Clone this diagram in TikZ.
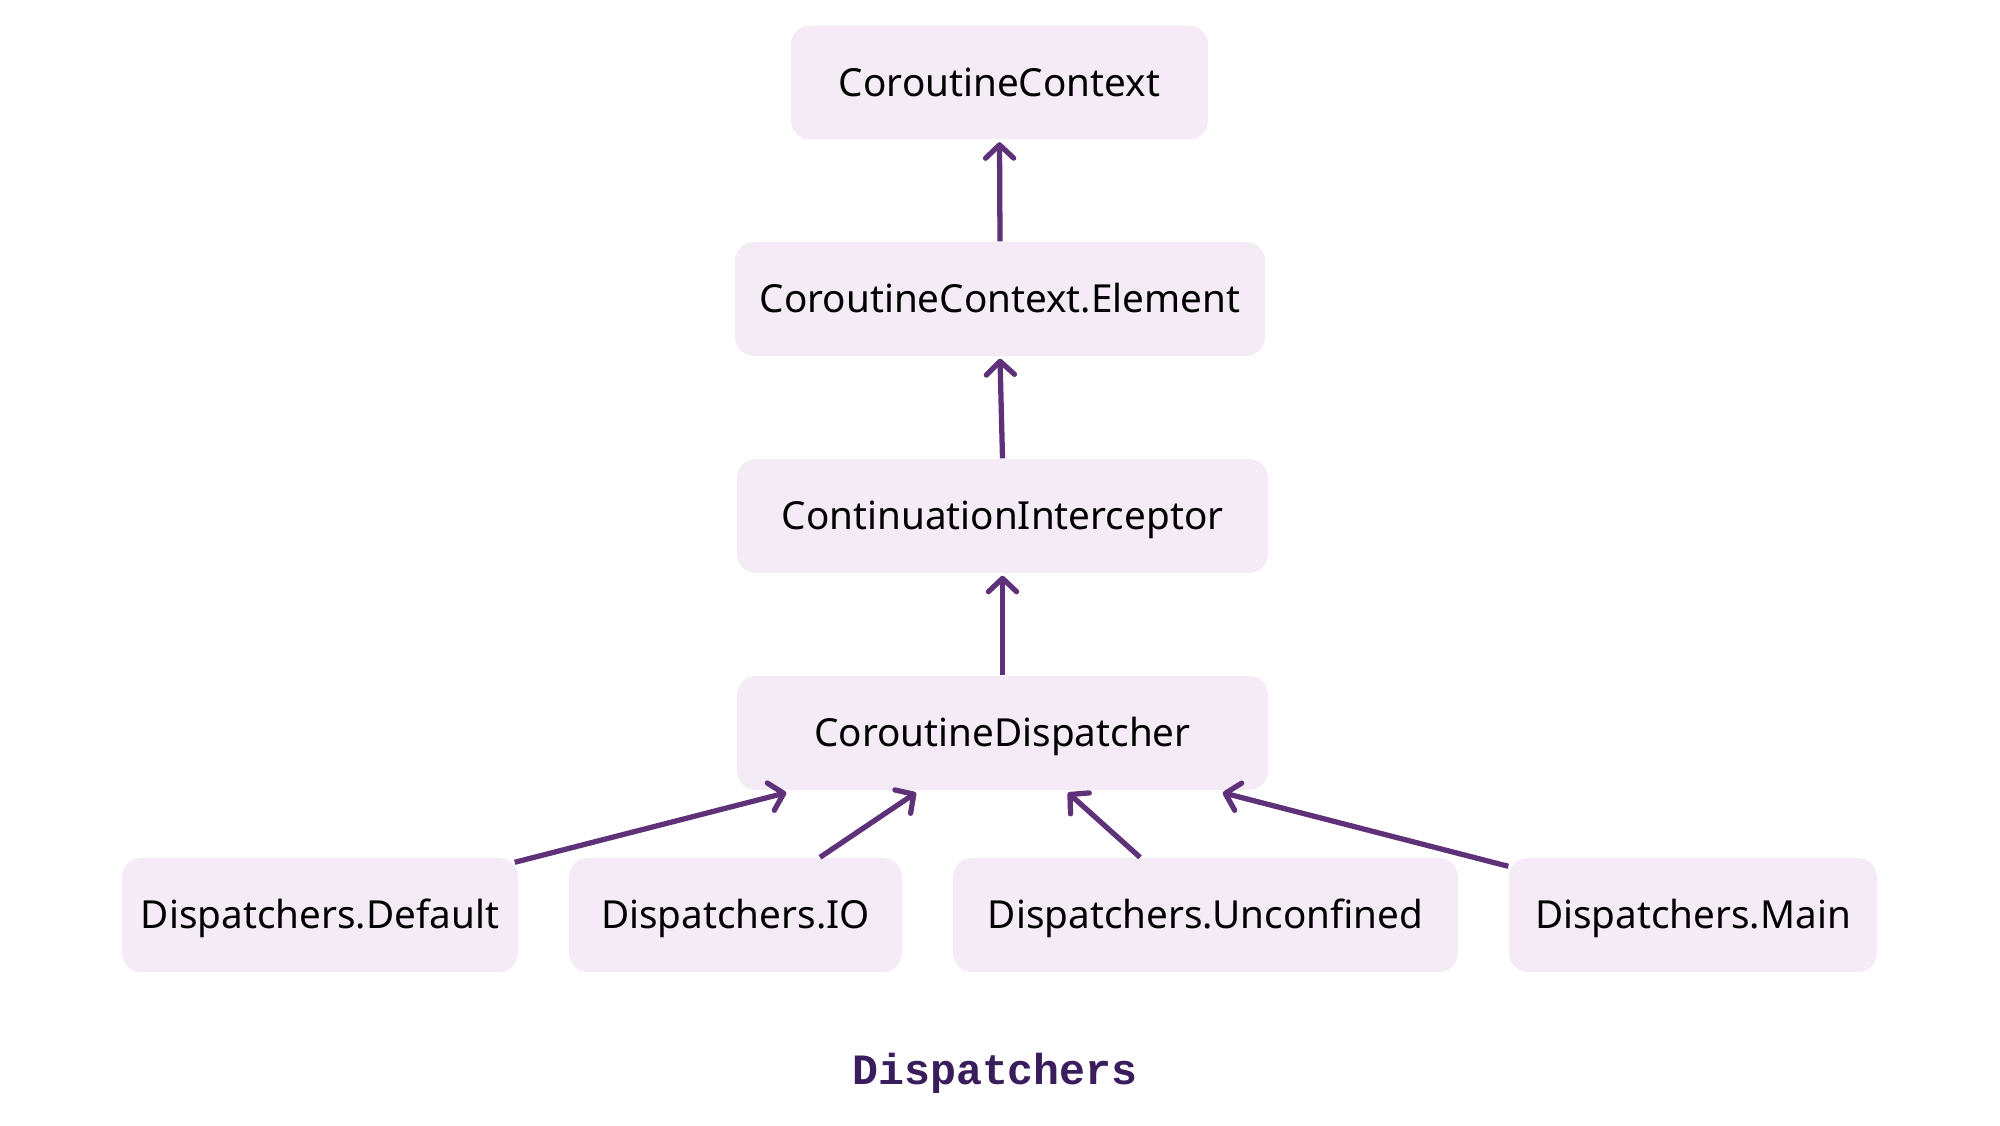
\documentclass[tikz,border=0pt]{standalone}
\usepackage{fontspec}
\usepackage{xcolor}
\usepackage{tikz}
\usetikzlibrary{calc,arrows.meta}
\setmainfont{Noto Sans}
\newfontfamily\capfont{Liberation Mono}

\definecolor{boxfill}{HTML}{F5EBF7}
\definecolor{arrowcol}{HTML}{5E3179}
\definecolor{capcol}{HTML}{3A1D5C}

\begin{document}
\begin{tikzpicture}[
		cls/.style={fill=boxfill, rounded corners=0.19cm, minimum height=1.14cm, inner sep=0pt, text height=7.9pt, text depth=0pt, font=\fontsize{11}{13}\selectfont},
		inh/.style={draw=arrowcol, line width=1.5pt, -{Straight Barb[length=3.8pt,width=8pt,line width=1.5pt,round]}}
	]
		\useasboundingbox (0,0) rectangle (20,11.25);
		
		\node[cls, minimum width=4.17cm] (ctx) at (9.995,10.425) {CoroutineContext};
		\node[cls, minimum width=5.30cm] (elem) at (10.0,8.26) {CoroutineContext.Element};
		\node[cls, minimum width=5.31cm] (icpt) at (10.025,6.09) {ContinuationInterceptor};
		\node[cls, minimum width=5.31cm] (disp) at (10.025,3.92) {CoroutineDispatcher};
		
		\node[cls, minimum width=3.96cm] (dflt) at (3.20,2.10) {Dispatchers.Default};
		\node[cls, minimum width=3.33cm] (io) at (7.355,2.10) {Dispatchers.IO};
		\node[cls, minimum width=5.05cm] (unc) at (12.055,2.10) {Dispatchers.Unconfined};
		\node[cls, minimum width=3.68cm] (main) at (16.93,2.10) {Dispatchers.Main};
		
		\node[text=capcol, font=\capfont\bfseries\fontsize{12.3}{14}\selectfont] (cap) at (9.95,0.52) {Dispatchers};
		
		\draw[inh] (elem.north) -- ($(ctx.south)+(0,-0.02)$);
		\draw[inh] (icpt.north) -- ($(elem.south)+(0,-0.02)$);
		\draw[inh] (disp.north) -- ($(icpt.south)+(0,-0.02)$);
		
		\draw[inh] ($(dflt.north east)+(-0.04,-0.05)$) -- ($(disp.south west)+(0.5,-0.02)$);
		\draw[inh] ($(io.north)+(0.845,0)$) -- ($(disp.south)+(-0.865,-0.02)$);
		\draw[inh] ($(unc.north)+(-0.655,0)$) -- ($(disp.south)+(0.655,-0.02)$);
		\draw[inh] ($(main.north west)+(0,-0.09)$) -- ($(disp.south east)+(-0.46,-0.02)$);
	\end{tikzpicture}
\end{document}
